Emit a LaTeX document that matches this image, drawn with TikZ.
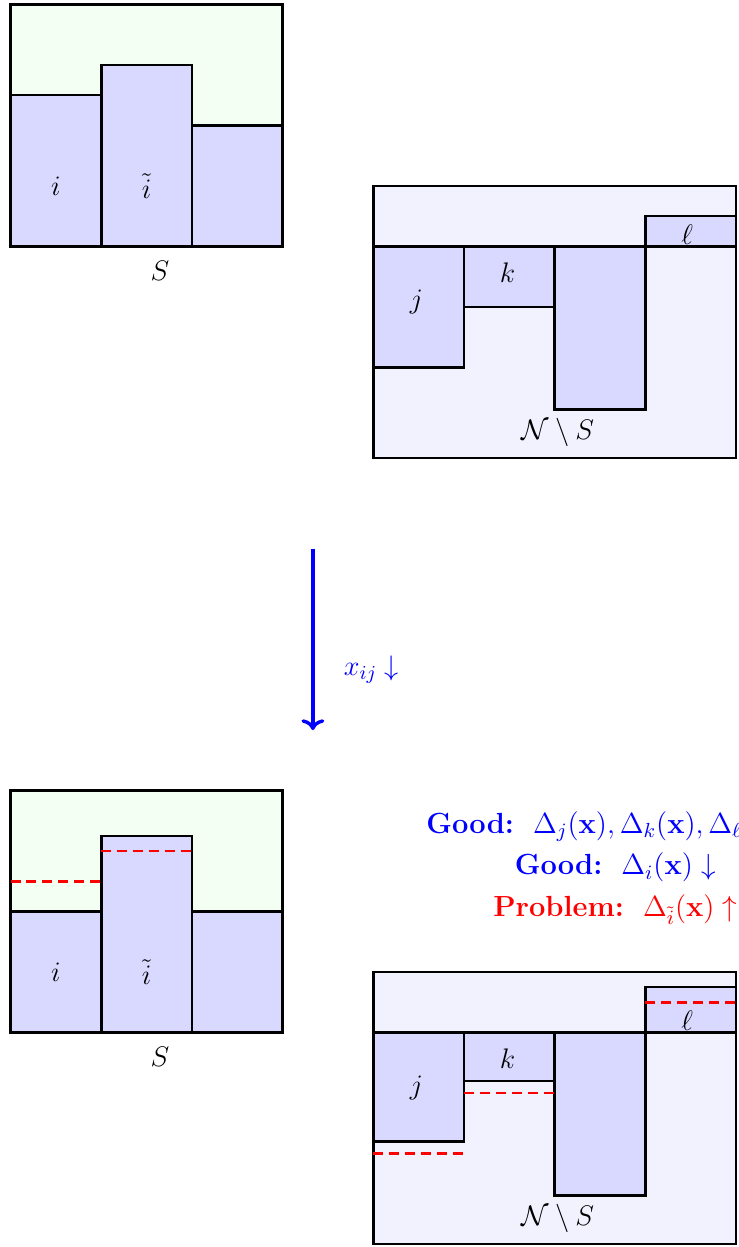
\documentclass[tikz,border=0pt]{standalone}
\usepackage{fix-cm}
\usepackage{xcolor}
\usepackage{amsmath}
\usepackage{tikz}
\usetikzlibrary{arrows.meta, positioning}
\definecolor{LoadBlue}{RGB}{217, 217, 255}
\definecolor{SetGreen}{RGB}{242, 255, 242}
\definecolor{RestBlue}{RGB}{242, 242, 255}
\definecolor{MoveBlue}{RGB}{0, 0, 255}
\definecolor{WarnRed}{RGB}{255, 0, 0}
\tikzset{
  binframe/.style={draw=black, very thick},
  jobblock/.style={draw=black, very thick, fill=LoadBlue},
  oldlevel/.style={draw=WarnRed, very thick, dash pattern=on 4.7pt off 2.8pt},
  lbl/.style={inner sep=0pt, font=\fontsize{13.3}{16}\selectfont},
  movearrow/.style={draw=MoveBlue, ultra thick, ->}
}

\begin{document}
\begin{tikzpicture}
    \useasboundingbox (-0.174, -16.548) rectangle (12.047, 4.074);

    \draw[binframe, fill=SetGreen] (0,0) rectangle (4.5,4);
    \draw[jobblock] (0,0) rectangle (1.5,2.5);
    \draw[jobblock] (1.5,0) rectangle (3,3);
    \draw[jobblock] (3,0) rectangle (4.5,2);
    \node[lbl] (iBefore) at (0.75,1) {$i$};
    \node[lbl] (itBefore) at (2.25,1) {$\tilde{i}$};
    \node[lbl] (SBefore) at (2.47,-0.4) {$S$};

    \draw[binframe, fill=RestBlue] (6,-3.5) rectangle (12,1);
    \draw[jobblock] (6,0) rectangle (7.5,-2);
    \draw[jobblock] (7.5,0) rectangle (9,-1);
    \draw[jobblock] (9,0) rectangle (10.5,-2.7);
    \draw[jobblock] (10.5,0) rectangle (12,0.5);
    \node[lbl] (jBefore) at (6.71,-0.92) {$j$};
    \node[lbl] (kBefore) at (8.22,-0.43) {$k$};
    \node[lbl] (lBefore) at (11.19,0.2) {$\ell$};
    \node[lbl] (restBefore) at (9.05,-3.08) {$\mathcal{N}\setminus S$};

    \coordinate (arrowStart) at (5,-5);
    \coordinate (arrowEnd) at (5,-8);
    \draw[movearrow] (arrowStart) -- (arrowEnd);
    \node[lbl, text=MoveBlue] (moveLabel) at (5.97,-7) {$x_{ij}\downarrow$};

    \node[
      align=center, font=\fontsize{13.7}{19.6}\selectfont
    ] (deltaNotes) at (10,-10.28) {
      {\color{MoveBlue}\textbf{Good:}\ \ $\Delta_j(\mathbf{x}), \Delta_k(\mathbf{x}), \Delta_\ell(\mathbf{x}) \uparrow$}\\
      {\color{MoveBlue}\textbf{Good:}\ \ $\Delta_i(\mathbf{x}) \downarrow$}\\
      {\color{WarnRed}\textbf{Problem:}\ \ $\Delta_{\tilde{i}}(\mathbf{x}) \uparrow$}
    };

    \begin{scope}[yshift=-13cm]
      \draw[binframe, fill=SetGreen] (0,0) rectangle (4.5,4);
      \draw[jobblock] (0,0) rectangle (1.5,2);
      \draw[jobblock] (1.5,0) rectangle (3,3.25);
      \draw[jobblock] (3,0) rectangle (4.5,2);
      \draw[oldlevel] (0,2.5) -- (1.5,2.5);
      \draw[oldlevel] (1.5,3) -- (3,3);
      \node[lbl] (iAfter) at (0.75,1) {$i$};
      \node[lbl] (itAfter) at (2.25,1) {$\tilde{i}$};
      \node[lbl] (SAfter) at (2.47,-0.4) {$S$};

      \draw[binframe, fill=RestBlue] (6,-3.5) rectangle (12,1);
      \draw[jobblock] (6,0) rectangle (7.5,-1.8);
      \draw[jobblock] (7.5,0) rectangle (9,-0.8);
      \draw[jobblock] (9,0) rectangle (10.5,-2.7);
      \draw[jobblock] (10.5,0) rectangle (12,0.75);
      \draw[oldlevel] (6,-2) -- (7.5,-2);
      \draw[oldlevel] (7.5,-1) -- (9,-1);
      \draw[oldlevel] (10.5,0.5) -- (12,0.5);
      \node[lbl] (jAfter) at (6.71,-0.92) {$j$};
      \node[lbl] (kAfter) at (8.22,-0.43) {$k$};
      \node[lbl] (lAfter) at (11.19,0.2) {$\ell$};
      \node[lbl] (restAfter) at (9.05,-3.08) {$\mathcal{N}\setminus S$};
    \end{scope}
\end{tikzpicture}
\end{document}
